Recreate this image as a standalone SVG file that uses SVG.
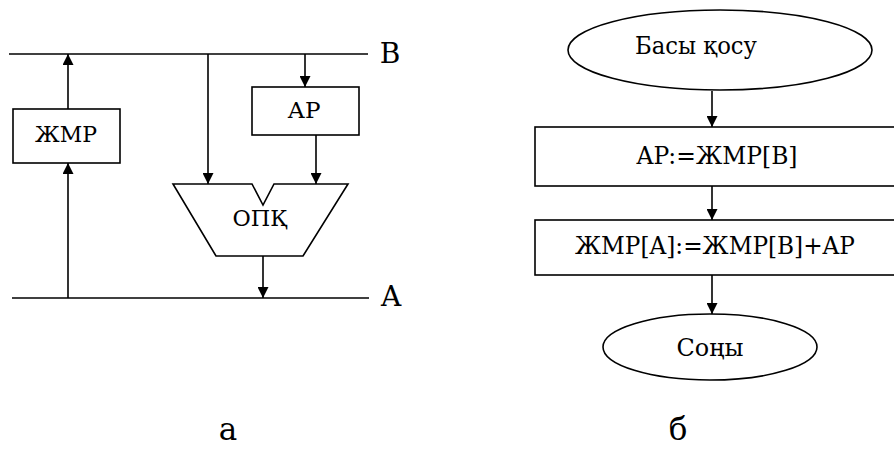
<svg xmlns="http://www.w3.org/2000/svg" width="894" height="455" viewBox="0 0 894 455">
<defs>
<style>
.ln{stroke:#000;stroke-width:1.6;fill:none}
.bx{stroke:#000;stroke-width:1.6;fill:#fff}
.t{fill:#000;text-anchor:middle;font-family:"DejaVu Serif","Liberation Serif",serif}
.s22{font-size:22.5px}
.s23{font-size:23.5px}
.s28{font-size:28px}
.s31{font-size:31px}
</style>
<marker id="ar" viewBox="0 0 10 10" refX="10" refY="5" markerWidth="11" markerHeight="11" markerUnits="userSpaceOnUse" orient="auto">
<path d="M0,0 L10,5 L0,10 Z" fill="#000"/>
</marker>
</defs>
<g id="connectors">
<line class="ln" x1="9" y1="54" x2="368" y2="54"/>
<line class="ln" x1="12" y1="298" x2="369" y2="298"/>
<line class="ln" x1="68" y1="109" x2="68" y2="54" marker-end="url(#ar)"/>
<line class="ln" x1="68" y1="298" x2="68" y2="163" marker-end="url(#ar)"/>
<line class="ln" x1="208" y1="54" x2="208" y2="184" marker-end="url(#ar)"/>
<line class="ln" x1="305" y1="54" x2="305" y2="87" marker-end="url(#ar)"/>
<line class="ln" x1="316" y1="135" x2="316" y2="184" marker-end="url(#ar)"/>
<line class="ln" x1="263" y1="256" x2="263" y2="298" marker-end="url(#ar)"/>
<line class="ln" x1="712" y1="91" x2="712" y2="127" marker-end="url(#ar)"/>
<line class="ln" x1="712" y1="186" x2="712" y2="220" marker-end="url(#ar)"/>
<line class="ln" x1="712" y1="275" x2="712" y2="314" marker-end="url(#ar)"/>
</g>
<g id="busB"><text class="t s28" x="390" y="63">B</text></g>
<g id="busA"><text class="t s28" x="391" y="306">A</text></g>
<g id="jmr">
<rect class="bx" x="13" y="109" width="107" height="54"/>
<text class="t s22" x="66" y="142" textLength="62" lengthAdjust="spacingAndGlyphs">ЖМР</text>
</g>
<g id="ar-reg">
<rect class="bx" x="252" y="87" width="107" height="48"/>
<text class="t s22" x="304" y="118" textLength="33" lengthAdjust="spacingAndGlyphs">АР</text>
</g>
<g id="alu">
<path class="bx" d="M173,184 L252,184 L263,205 L274,184 L348,184 L303,256 L216,256 Z"/>
<text class="t s22" x="260" y="226" textLength="55" lengthAdjust="spacingAndGlyphs">ОПҚ</text>
</g>
<g id="start">
<ellipse class="bx" cx="720" cy="50" rx="152" ry="40"/>
<text class="t s23" x="696" y="54" textLength="122" lengthAdjust="spacingAndGlyphs">Басы қосу</text>
</g>
<g id="step1">
<rect class="bx" x="535" y="127" width="370" height="59"/>
<text class="t s23" x="717" y="164" textLength="161" lengthAdjust="spacingAndGlyphs">AP:=ЖМР[B]</text>
</g>
<g id="step2">
<rect class="bx" x="535" y="220" width="370" height="55"/>
<text class="t s23" x="715" y="254" textLength="280" lengthAdjust="spacingAndGlyphs">ЖМР[A]:=ЖМР[B]+AP</text>
</g>
<g id="end">
<ellipse class="bx" cx="710" cy="347" rx="107" ry="33"/>
<text class="t s23" x="710" y="356" textLength="67" lengthAdjust="spacingAndGlyphs">Соңы</text>
</g>
<g id="captions">
<text class="t s31" x="228" y="440">а</text>
<text class="t s31" x="678" y="440">б</text>
</g>
</svg>
